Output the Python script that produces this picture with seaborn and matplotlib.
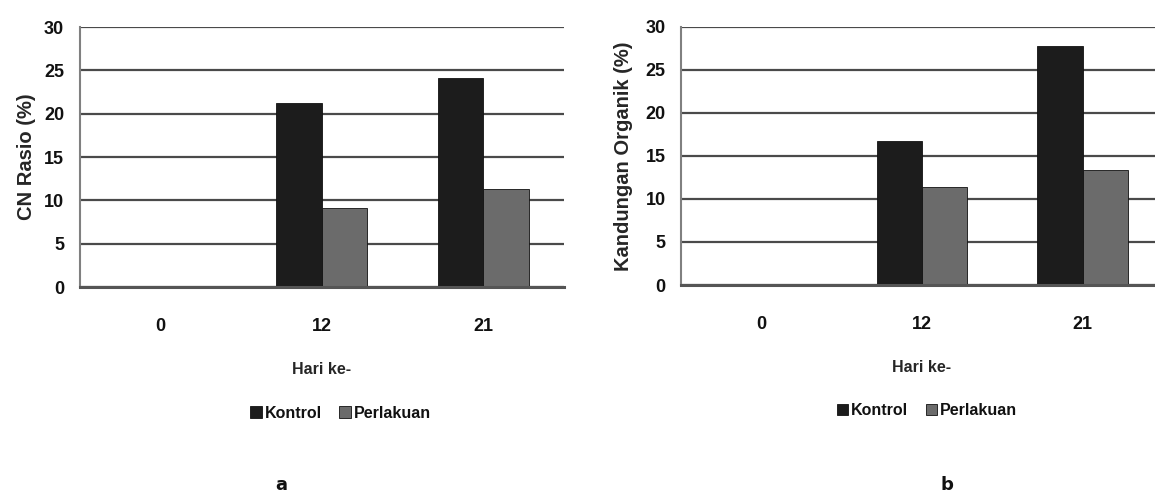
import pandas as pd
import numpy as np
import seaborn as sns
import matplotlib.pyplot as plt
from matplotlib.ticker import FixedLocator

# data
days = ['0', '12', '21']
groups = ['Kontrol', 'Perlakuan']
cn_kontrol = [0, 21.2, 24.1]
cn_perlakuan = [0, 9.1, 11.3]
org_kontrol = [0, 16.7, 27.8]
org_perlakuan = [0, 11.4, 13.4]
yticks = [0, 5, 10, 15, 20, 25, 30]

palette = {'Kontrol': '#1c1c1c', 'Perlakuan': '#6b6b6b'}

sns.set_style('white')
plt.rcParams['font.family'] = ['Liberation Sans', 'DejaVu Sans']
plt.rcParams['font.weight'] = 'bold'
plt.rcParams['text.color'] = '#111111'
plt.rcParams['xtick.color'] = '#111111'
plt.rcParams['ytick.color'] = '#111111'


def make_df(kontrol, perlakuan):
    rows = []
    for d, k, p in zip(days, kontrol, perlakuan):
        rows.append({'Hari': d, 'Nilai': k, 'Grup': 'Kontrol'})
        rows.append({'Hari': d, 'Nilai': p, 'Grup': 'Perlakuan'})
    return pd.DataFrame(rows)


def draw_panel(ax, df, ylabel, leg_x):
    sns.barplot(data=df, x='Hari', y='Nilai', hue='Grup', order=days,
                hue_order=groups, palette=palette, width=0.565,
                edgecolor='#111111', linewidth=0.6, saturation=1, ax=ax,
                zorder=3)
    ax.set_xlim(-0.5, 2.5)
    ax.set_ylim(0, 30)
    ax.set_yticks(yticks)
    ax.yaxis.grid(True, color='#4a4a4a', linewidth=1.6, zorder=0)
    ax.set_axisbelow(True)
    for side in ['top', 'right']:
        ax.spines[side].set_visible(False)
    ax.spines['left'].set_color('#808080')
    ax.spines['left'].set_linewidth(1.5)
    ax.spines['bottom'].set_color('#555555')
    ax.spines['bottom'].set_linewidth(2.2)
    ax.spines['bottom'].set_zorder(4)
    ax.tick_params(axis='y', direction='out', length=5, width=1.3,
                   color='#808080', pad=6, labelsize=13)
    ax.tick_params(axis='x', which='major', length=0, pad=22, labelsize=13)
    ax.xaxis.set_minor_locator(FixedLocator([-0.5, 0.5, 1.5, 2.5]))
    ax.tick_params(axis='x', which='minor', direction='out', length=6,
                   width=1.3, color='#808080')
    ax.set_xlabel('Hari ke-', fontsize=11.5, fontweight='bold')
    ax.xaxis.set_label_coords(0.5, -0.29)
    ax.set_ylabel(ylabel, fontsize=14.5, fontweight='bold')
    ax.yaxis.label.set_va('center')
    ax.yaxis.set_label_coords(-0.11, 0.5)
    sns.move_legend(ax, 'center', bbox_to_anchor=(leg_x, -0.485), ncol=2,
                    frameon=False, title=None, fontsize=11.5,
                    handlelength=0.7, handleheight=0.7, handletextpad=0.2,
                    columnspacing=1.1)


fig = plt.figure(figsize=(11.55, 4.94), dpi=100)
ax1 = fig.add_axes([79.5 / 1155, 1 - 287 / 494, 484.5 / 1155, 260 / 494])
ax2 = fig.add_axes([681 / 1155, 1 - 285 / 494, 482 / 1155, 258.3 / 494])

draw_panel(ax1, make_df(cn_kontrol, cn_perlakuan), 'CN Rasio (%)', 0.539)
draw_panel(ax2, make_df(org_kontrol, org_perlakuan), 'Kandungan Organik (%)', 0.51)
ax2.yaxis.set_label_coords(-0.12, 0.5)

fig.text(281 / 1155, 1 - 485 / 494, 'a', ha='center', va='center',
         fontsize=13, fontweight='bold', family='DejaVu Sans')
fig.text(947 / 1155, 1 - 485 / 494, 'b', ha='center', va='center',
         fontsize=13, fontweight='bold', family='DejaVu Sans')

fig.savefig('out.png', dpi=100)
